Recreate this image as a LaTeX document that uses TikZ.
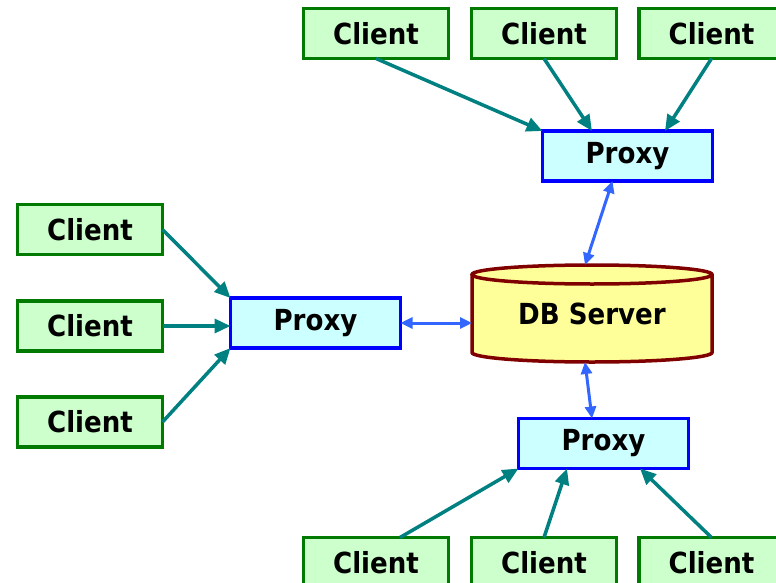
\documentclass[tikz,border=0pt]{standalone}
\usepackage{fontspec}
\newfontfamily\lab{DejaVu Sans}[UprightFont={* Bold}, FakeStretch=0.9]
\usetikzlibrary{arrows.meta,calc}
\definecolor{clientfill}{HTML}{CCFFCC}
\definecolor{clientline}{HTML}{007A00}
\definecolor{proxyfill}{HTML}{CCFFFF}
\definecolor{proxyline}{HTML}{0000FF}
\definecolor{dbfill}{HTML}{FFFF99}
\definecolor{dbline}{HTML}{800000}
\definecolor{feed}{HTML}{008080}
\definecolor{link}{HTML}{3366FF}
\begin{document}
\begin{tikzpicture}[x=1pt,y=-1pt,
  every node/.style={font=\lab\fontsize{29}{34}\selectfont, inner sep=0pt, outer sep=0pt},
  client/.style={draw=clientline, fill=clientfill, line width=3.5pt, minimum width=145pt, minimum height=50pt},
  proxy/.style={draw=proxyline, fill=proxyfill, line width=3.5pt, minimum width=170pt, minimum height=50pt},
  feedarrow/.style={draw=feed, line width=3.5pt, -{Triangle[length=16pt,width=14pt]}},
  linkarrow/.style={draw=link, line width=3pt, {Triangle[length=12pt,width=11pt]}-{Triangle[length=12pt,width=11pt]}}]
\useasboundingbox (0,0) rectangle (776,583);

% database cylinder: an empty node carries the name, the body is drawn around it
\node[minimum width=240pt, minimum height=97pt] (db) at (592,313.5) {};
\fill[dbfill] ($(db.north west)+(0,9.5)$) -- ($(db.south west)+(0,-9.5)$)
  arc[start angle=180, end angle=0, x radius=120, y radius=9.5]
  -- ($(db.north east)+(0,9.5)$)
  arc[start angle=0, end angle=-180, x radius=120, y radius=9.5] -- cycle;
\draw[dbline, line width=3.5pt] ($(db.north west)+(0,9.5)$) -- ($(db.south west)+(0,-9.5)$)
  arc[start angle=180, end angle=0, x radius=120, y radius=9.5]
  -- ($(db.north east)+(0,9.5)$)
  arc[start angle=0, end angle=-180, x radius=120, y radius=9.5]
  arc[start angle=180, end angle=0, x radius=120, y radius=9.5];
\node at (db.center) {DB Server};

% proxies
\node[proxy] (tp) at (627.5,156) {Proxy};
\node[proxy] (lp) at (315.5,323) {Proxy};
\node[proxy] (bp) at (603.5,443.5) {Proxy};

% clients
\node[client] (tc1) at (376,33.5) {Client};
\node[client] (tc2) at (544,33.5) {Client};
\node[client] (tc3) at (711.5,33.5) {Client};
\node[client] (lc1) at (90,229.5) {Client};
\node[client] (lc2) at (90,326) {Client};
\node[client] (lc3) at (90,422) {Client};
\node[client] (bc1) at (376,562.5) {Client};
\node[client] (bc2) at (544,562.5) {Client};
\node[client] (bc3) at (711.5,562.5) {Client};

% client -> proxy
\draw[feedarrow] (tc1.south) -- (tp.north west);
\draw[feedarrow] (tc2.south) -- ($(tp.north)+(-35.5,0)$);
\draw[feedarrow] (tc3.south) -- ($(tp.north)+(37.5,0)$);
\draw[feedarrow] (lc1.east) -- (lp.north west);
\draw[feedarrow] (lc2.east) -- (lc2.east -| lp.west);
\draw[feedarrow] (lc3.east) -- (lp.south west);
\draw[feedarrow] ($(bc1.north)+(24,0)$) -- (bp.south west);
\draw[feedarrow] (bc2.north) -- ($(bp.south)+(-36.5,0)$);
\draw[feedarrow] (bc3.north) -- ($(bp.south)+(36.5,0)$);

% proxy <-> database
\draw[linkarrow] ($(tp.south)+(-15,0)$) -- ($(db.north)+(-7,0)$);
\draw[linkarrow] (lp.east) -- (lp.east -| db.west);
\draw[linkarrow] ($(db.south)+(-7,0)$) -- ($(bp.north)+(-11.5,0)$);
\end{tikzpicture}
\end{document}
